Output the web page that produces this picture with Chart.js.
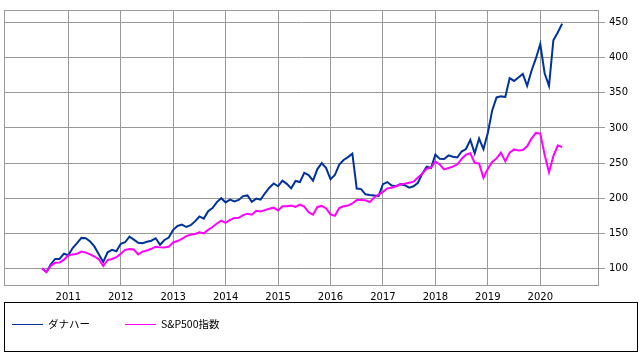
<!DOCTYPE html>
<html>
<head>
<meta charset="utf-8">
<script src="https://cdn.jsdelivr.net/npm/chart.js@4.4.1/dist/chart.umd.min.js"></script>
<style>
  html, body { margin: 0; padding: 0; background: #fff; }
  #wrap { position: relative; width: 642px; height: 357px; }
  #c { position: absolute; left: 0; top: 0; }
  #legend { position: absolute; left: 4px; top: 302px; width: 634px; height: 50px; box-sizing: border-box; border: 1px solid #000; font-family: "Noto Sans CJK JP", "DejaVu Sans", sans-serif; font-size: 10.5px; color: #000; }
  .sw { position: absolute; top: 21px; height: 1px; width: 31px; }
  .lb { position: absolute; top: 14px; line-height: 14px; white-space: nowrap; }
</style>
</head>
<body>
<div id="wrap">
  <canvas id="c" width="642" height="357"></canvas>
  <div id="legend"></div>
</div>
<script>
// ---- data ----
const seriesNames = ['ダナハー', 'S&P500指数'];
const startYear = 2010, startMonth = 7;   // monthly, from July 2010
const danaher = [100,95,106,113.5,113.5,121,118.7,129,136,143.5,
  143,138.5,131,120,109.3,123,126.5,124.5,135,137.3,
  145.3,141,136.5,136,138,139.5,143,133.7,140.5,144,
  155,160.5,162.5,159,161.5,167,174,171,181.5,186,
  194.5,200,194,198,195.5,197.5,203,204,195,199.5,
  198,207,215,221,217,225,220.5,214,224.5,223,
  236,233,225,241.5,250,243,227,233,248,254.5,
  258.5,263.5,213.7,213,205.5,204.5,204,203,220,223,
  218,217,220,218.5,215,217,222,235,245,243,
  262,256,255.8,261,259,258,266.5,270,283,264,
  285,270,293,325,343.5,345,344.3,371,367,372,
  377,360,381.5,399,419.5,378,360,425,436,448.4];
const sp500 = [100,95,104,108,108.3,112.5,118.5,120,121,124,
  122.5,120,117,113,103.5,112,113.5,116,121,126.5,
  127.5,127,120,124,125.5,128,131,130,129.7,131,
  137,139,142,146,148,149,151.4,150,155,159,
  164,168,165,169,172,172.2,176,178,176.5,182,
  181,183,185,186.5,182.5,188.5,188.5,189.5,187.7,191,
  188,180,176.5,187.5,189,185.5,177,175,186,188.5,
  189.5,192.5,197.3,197.3,197,194.5,201,205,209,214,
  215,217,219.5,220.5,222,223.5,229.5,235,242,243.6,
  252,248,241,243,245,248,256,262,264,250,
  249.5,229,242,251.5,256.7,265,252.5,265,269.5,268,
  268.5,274,285,293,292,262,237,260,275,273];
const yearTicks = [2011,2012,2013,2014,2015,2016,2017,2018,2019,2020];
const yTicks = [100,150,200,250,300,350,400,450];
const colors = ['#003399', '#ff00ff'];

// month positions (fractional years)
const monthX = danaher.map((_, i) => {
  const m = startMonth - 1 + i;
  return startYear + Math.floor(m / 12) + (m % 12) / 12;
});
const toXY = arr => arr.map((v, i) => ({ x: monthX[i], y: v }));

const GRID = '#999999';
const frame = {
  id: 'frame',
  afterDatasetsDraw(chart) {
    const a = chart.chartArea, ctx = chart.ctx;
    ctx.save();
    ctx.strokeStyle = GRID;
    ctx.lineWidth = 1;
    ctx.strokeRect(Math.round(a.left) + 0.5, Math.round(a.top) + 0.5,
      Math.round(a.right - a.left) - 1, Math.round(a.bottom - a.top) - 1);
    ctx.restore();
  }
};

const chart = new Chart(document.getElementById('c'), {
  type: 'line',
  data: {
    datasets: [
      { label: seriesNames[0], data: toXY(danaher), borderColor: colors[0], backgroundColor: colors[0], borderWidth: 2, pointRadius: 0, tension: 0, order: 1 },
      { label: seriesNames[1], data: toXY(sp500), borderColor: colors[1], backgroundColor: colors[1], borderWidth: 2, pointRadius: 0, tension: 0, order: 0 }
    ]
  },
  options: {
    responsive: false,
    animation: false,
    devicePixelRatio: 1,
    layout: { padding: { left: 4, top: 6, right: 0, bottom: 0 } },
    plugins: { legend: { display: false }, tooltip: { enabled: false } },
    scales: {
      x: {
        type: 'linear',
        min: 2009.774, max: 2021.12,
        afterBuildTicks: s => { s.ticks = yearTicks.map(v => ({ value: v })); },
        afterFit: s => { s.height = 357 - 286; },
        grid: { color: GRID, lineWidth: 1, drawTicks: false },
        border: { display: false },
        ticks: { padding: 5, color: '#000', font: { family: 'DejaVu Sans', size: 10 }, maxRotation: 0, autoSkip: false, callback: v => String(v) }
      },
      y: {
        position: 'right',
        min: 75, max: 468,
        afterBuildTicks: s => { s.ticks = yTicks.map(v => ({ value: v })); },
        afterFit: s => { s.width = 642 - 599; },
        grid: { color: GRID, lineWidth: 1, drawTicks: true, tickLength: 6 },
        border: { display: false },
        ticks: { padding: 4, color: '#000', font: { family: 'DejaVu Sans', size: 10 }, callback: v => String(v) }
      }
    }
  },
  plugins: [frame]
});

// legend built from the chart's datasets
const leg = document.getElementById('legend');
const itemX = [7, 120];
chart.data.datasets.forEach((ds, i) => {
  const sw = document.createElement('div');
  sw.className = 'sw';
  sw.style.left = itemX[i] + 'px';
  sw.style.background = ds.borderColor;
  leg.appendChild(sw);
  const lb = document.createElement('span');
  lb.className = 'lb';
  lb.style.left = (itemX[i] + 36) + 'px';
  lb.textContent = ds.label;
  leg.appendChild(lb);
});
</script>
</body>
</html>
